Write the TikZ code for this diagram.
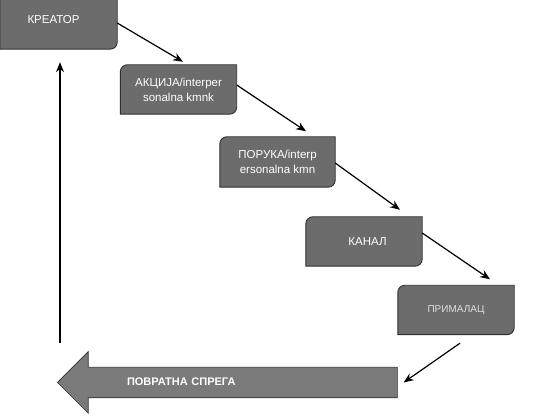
\documentclass[tikz,border=0pt]{standalone}
\usepackage{fontspec}
\setmainfont{Liberation Sans}
\usetikzlibrary{arrows.meta,shapes.arrows,backgrounds}
\definecolor{boxgray}{RGB}{108,108,108}
\definecolor{boxedge}{RGB}{48,48,48}
\definecolor{arrowgray}{RGB}{122,122,122}
\begin{document}
\begin{tikzpicture}[
            x=1pt, y=1pt,
            stage/.style={rectangle, inner sep=0pt, minimum width=116pt, minimum height=49pt, text centered, align=center, text=white, font=\fontsize{11.5}{15}\selectfont},
            boxshape/.style={fill=boxgray, draw=boxedge, line width=0.9pt},
            link/.style={draw=black, line width=1.2pt, -{Stealth[length=10pt,width=8pt]}},
            feedback/.style={single arrow, shape border rotate=180, fill=arrowgray, draw=boxedge, line width=0.6pt, single arrow head extend=15.5pt, inner xsep=10pt, inner ysep=10pt, text height=8pt, text depth=2pt, text width=304pt, align=left, text=white, font=\fontsize{11}{13}\selectfont\bfseries}
        ]
        \useasboundingbox (0,0) rectangle (544,419);
        \node[stage, minimum width=117pt, minimum height=59pt] (kreator) at (58.5,399.5) {\hspace*{-10pt}КРЕАТОР};
        \node[stage] (akcija) at (178.5,329.5) {АКЦИЈА/interper\\sonalna kmnk};
        \node[stage, minimum width=115pt, minimum height=50pt] (poruka) at (277.5,257) {ПОРУКА/interp\\ersonalna kmn};
        \node[stage] (kanal) at (364,177.5) {\hspace*{7pt}КАНАЛ};
        \node[stage, text={rgb,255:red,222;green,222;blue,222}, font=\fontsize{10}{12}\selectfont] (primalac) at (456,109) {ПРИМАЛАЦ};
        \node[feedback, anchor=tip] (povratna) at (57,36.5) {\hspace*{44pt}ПОВРАТНА СПРЕГА};
        \coordinate (fbend) at (60,76);
        % box outlines, round only top left and bottom right
        \begin{scope}[on background layer]
        \foreach \n in {kreator,akcija,poruka,kanal,primalac}
            \draw[boxshape] (\n.south west) -- ([yshift=-7pt]\n.north west)
                arc[start angle=180, end angle=90, radius=7pt] -- (\n.north east)
                -- ([yshift=7pt]\n.south east)
                arc[start angle=0, end angle=-90, radius=7pt] -- cycle;
        \end{scope}
        \draw[link] ([yshift=-3.5pt]kreator.east) -- ([xshift=4.5pt,yshift=3pt]akcija.north);
        \draw[link] ([yshift=4.5pt]akcija.east) -- ([xshift=28.5pt,yshift=5.5pt]poruka.north);
        \draw[link] ([yshift=-1pt]poruka.east) -- ([xshift=36pt,yshift=7pt]kanal.north);
        \draw[link] ([yshift=8.5pt]kanal.east) -- ([xshift=34pt,yshift=6pt]primalac.north);
        \draw[link] ([xshift=4pt,yshift=-8.5pt]primalac.south) -- ([xshift=6pt]povratna.tail);
        \draw[link] (fbend) -- ([xshift=1.5pt,yshift=-13pt]kreator.south);
\end{tikzpicture}
\end{document}
